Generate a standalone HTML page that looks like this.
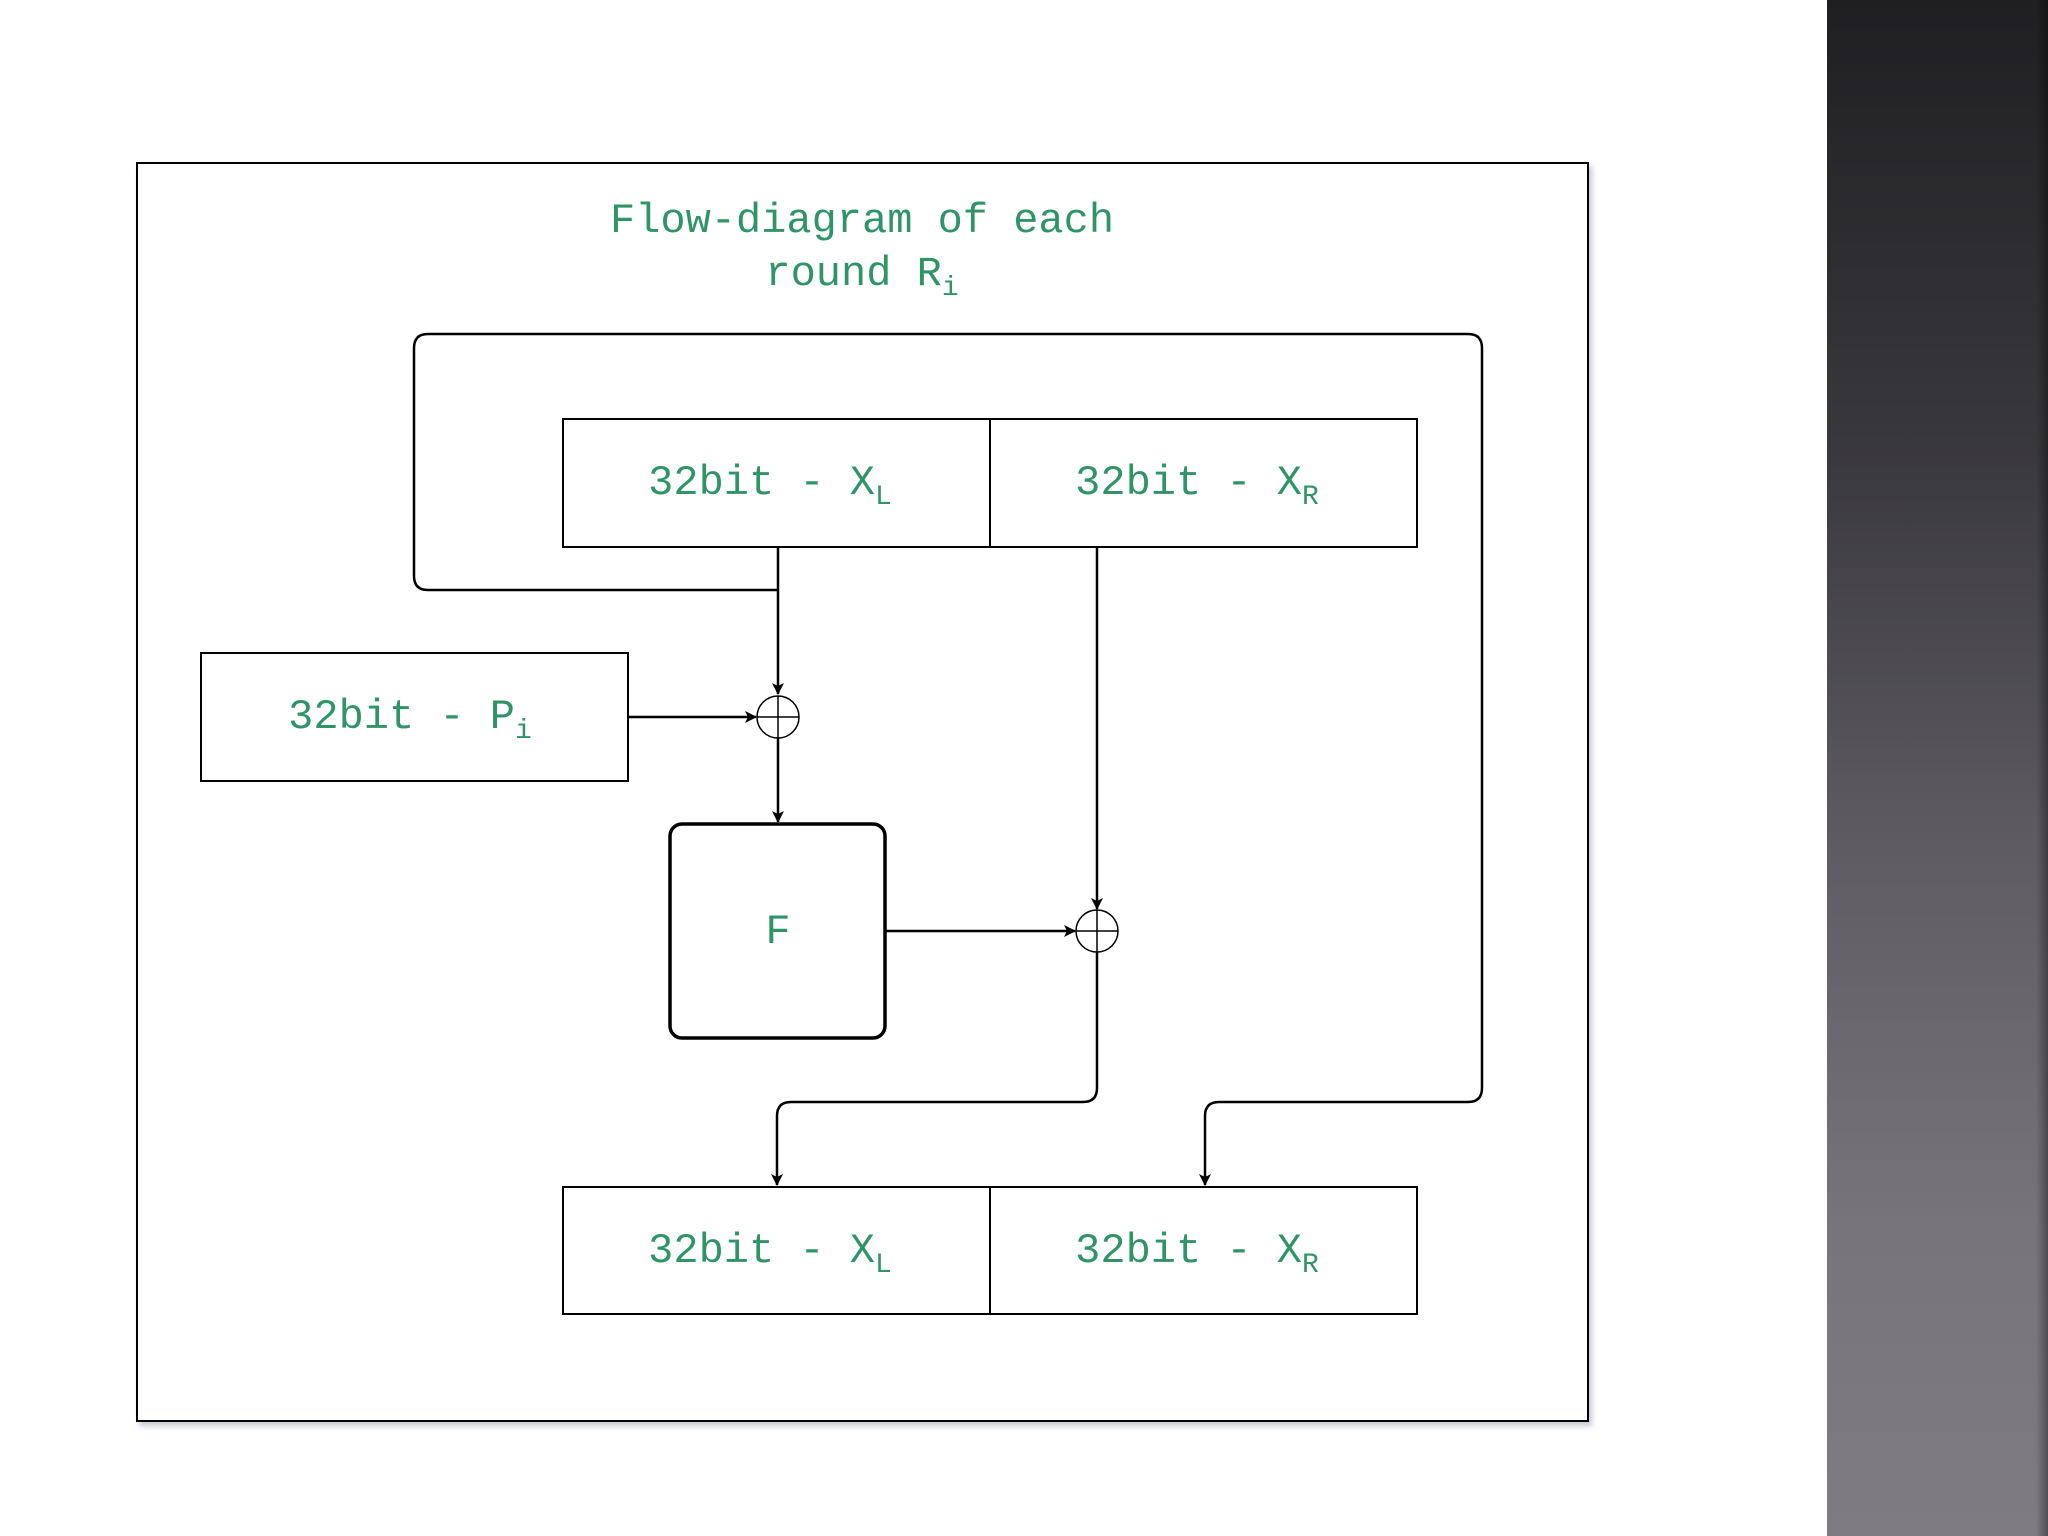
<!DOCTYPE html>
<html><head><meta charset="utf-8"><style>
html,body{margin:0;padding:0;width:2048px;height:1536px;overflow:hidden;background:#fff}
#panel{position:absolute;left:1827px;top:0;width:221px;height:1536px;background:linear-gradient(#1f1f22,#3a393d 30%,#5e5c62 55%,#77747b 80%,#7e7b82)}
#edge{position:absolute;left:2036px;top:0;width:12px;height:1536px;background:linear-gradient(90deg,rgba(0,0,0,0),rgba(0,0,0,0.35))}
svg{position:absolute;left:0;top:0}
text{font-family:"Liberation Mono",monospace;fill:#2f9466;font-size:42px}
</style></head><body>
<div id="panel"></div><div id="edge"></div>
<svg width="2048" height="1536" viewBox="0 0 2048 1536">
<defs>
<marker id="a" markerWidth="12" markerHeight="12" refX="11" refY="6" orient="auto" markerUnits="userSpaceOnUse">
<path d="M0,0 L12,6 L0,12 L3,6 Z" fill="#000"/></marker>
<filter id="sh"><feDropShadow dx="3" dy="4" stdDeviation="3" flood-color="#8890a8" flood-opacity="0.5"/></filter>
</defs>
<rect x="137" y="163" width="1451" height="1258" fill="#fff" stroke="#000" stroke-width="2" filter="url(#sh)"/>
<text x="862" y="232" text-anchor="middle">Flow-diagram of each</text>
<text x="862" y="285" text-anchor="middle">round R<tspan font-size="28" dy="10">i</tspan></text>
<g fill="none" stroke="#000" stroke-width="2.5">
<!-- loop -->
<path d="M778 590 L428 590 Q414 590 414 576 L414 348 Q414 334 428 334 L1468 334 Q1482 334 1482 348 L1482 1088 Q1482 1102 1468 1102 L1219 1102 Q1205 1102 1205 1116 L1205 1185" marker-end="url(#a)"/>
<path d="M778 547 L778 694" marker-end="url(#a)"/>
<path d="M628 717 L756 717" marker-end="url(#a)"/>
<path d="M778 738 L778 822" marker-end="url(#a)"/>
<path d="M1097 547 L1097 909" marker-end="url(#a)"/>
<path d="M885 931 L1075 931" marker-end="url(#a)"/>
<path d="M1097 952 L1097 1088 Q1097 1102 1083 1102 L791 1102 Q777 1102 777 1116 L777 1185" marker-end="url(#a)"/>
</g>
<g fill="none" stroke="#000" stroke-width="2">
<rect x="563" y="419" width="427" height="128"/><rect x="990" y="419" width="427" height="128"/>
<rect x="563" y="1187" width="427" height="127"/><rect x="990" y="1187" width="427" height="127"/>
<rect x="201" y="653" width="427" height="128"/>
<ellipse cx="778" cy="717" rx="21" ry="21" stroke-width="1.5"/><path d="M757 717H799M778 696V738" stroke-width="1.5"/>
<ellipse cx="1097" cy="931" rx="21" ry="21" stroke-width="1.5"/><path d="M1076 931H1118M1097 910V952" stroke-width="1.5"/>
<rect x="670" y="824" width="215" height="214" rx="12" stroke-width="3.5"/>
</g>
<text x="770" y="494" text-anchor="middle">32bit - X<tspan font-size="28" dy="10">L</tspan></text>
<text x="1197" y="494" text-anchor="middle">32bit - X<tspan font-size="28" dy="10">R</tspan></text>
<text x="770" y="1262" text-anchor="middle">32bit - X<tspan font-size="28" dy="10">L</tspan></text>
<text x="1197" y="1262" text-anchor="middle">32bit - X<tspan font-size="28" dy="10">R</tspan></text>
<text x="410" y="728" text-anchor="middle">32bit - P<tspan font-size="28" dy="10">i</tspan></text>
<text x="778" y="943" text-anchor="middle">F</text>
</svg>
</body></html>
